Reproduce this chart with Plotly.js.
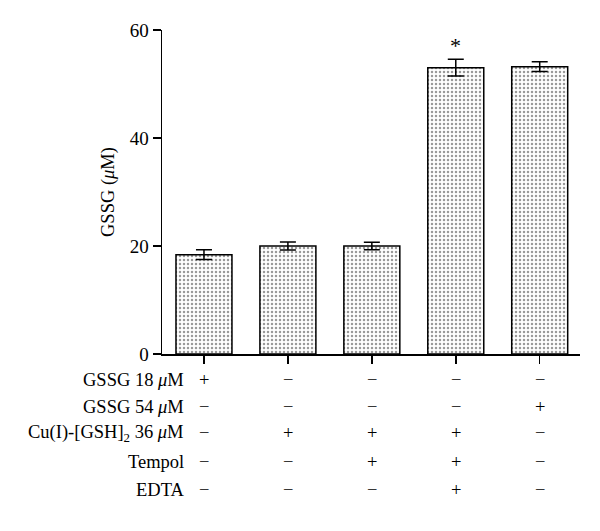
<!DOCTYPE html>
<html>
<head>
<meta charset="utf-8">
<script src="https://cdn.plot.ly/plotly-3.0.1.min.js"></script>
<style>
  body { margin: 0; background: #fff; }
  #plot { width: 600px; height: 531px; }
</style>
</head>
<body>
<div id="plot"></div>
<script>
// bar groups (one per column of the condition table)
const groups = [0, 1, 2, 3, 4];
const gssgMeans = [18.4, 20.0, 20.0, 53.0, 53.2];
const gssgErrPlus = [0.9, 0.75, 0.7, 1.6, 0.9];
const gssgErrMinus = [0.9, 0.75, 0.7, 1.5, 0.9];
const significant = [false, false, false, true, false];

// condition table under the x axis
const rowLabels = [
    'GSSG 18 <i>μ</i>M',
    'GSSG 54 <i>μ</i>M',
    'Cu(I)-[GSH]<sub>2</sub> 36 <i>μ</i>M',
    'Tempol',
    'EDTA'
];
const gssg18 = ['+', '−', '−', '−', '−'];
const gssg54 = ['−', '−', '−', '−', '+'];
const cuGsh = ['−', '+', '+', '+', '−'];
const tempol = ['−', '−', '+', '+', '−'];
const edta = ['−', '−', '−', '+', '−'];

const yTicks = [0, 20, 40, 60];

const FONT = 'Liberation Serif, DejaVu Serif, serif';
const FS = 18.5;

var trace = {
    type: 'bar',
    x: groups,
    y: gssgMeans,
    width: 0.667,
    marker: {
        color: '#ffffff',
        line: {color: '#000000', width: 1.5},
        pattern: {shape: '.', fgcolor: '#9a9a9a', bgcolor: '#ffffff', size: 4, solidity: 0.3}
    },
    error_y: {
        type: 'data',
        symmetric: false,
        array: gssgErrPlus,
        arrayminus: gssgErrMinus,
        color: '#000000',
        thickness: 1.5,
        width: 8
    },
    hoverinfo: 'skip'
};

var annotations = [];
// row labels and +/- signs
var rows = [gssg18, gssg54, cuGsh, tempol, edta];
var rowY = [-0.080, -0.164, -0.244, -0.333, -0.420]; // paper coords
for (let r = 0; r < rows.length; r++) {
    annotations.push({
        xref: 'paper', yref: 'paper',
        x: 0.058, y: rowY[r],
        xanchor: 'right', yanchor: 'middle',
        text: rowLabels[r],
        showarrow: false,
        font: {family: FONT, size: FS, color: '#000'}
    });
    for (let i = 0; i < groups.length; i++) {
        annotations.push({
            xref: 'x', yref: 'paper',
            x: groups[i], y: rowY[r],
            xanchor: 'center', yanchor: 'middle',
            text: rows[r][i],
            showarrow: false,
            font: {family: FONT, size: FS, color: '#000'}
        });
    }
}
// significance asterisk
for (let i = 0; i < groups.length; i++) {
    if (significant[i]) {
        annotations.push({
            xref: 'x', yref: 'y',
            x: groups[i], y: gssgMeans[i] + gssgErrPlus[i],
            yshift: 14,
            xanchor: 'center', yanchor: 'middle',
            text: '*',
            showarrow: false,
            font: {family: FONT, size: 22, color: '#000'}
        });
    }
}

var layout = {
    width: 600,
    height: 531,
    margin: {l: 162, r: 20, t: 30, b: 177},
    paper_bgcolor: '#ffffff',
    plot_bgcolor: '#ffffff',
    showlegend: false,
    font: {family: FONT, size: FS, color: '#000'},
    xaxis: {
        range: [-0.5, 4.48],
        tickvals: groups,
        showticklabels: false,
        ticks: 'outside',
        ticklen: 8,
        tickwidth: 1.5,
        tickcolor: '#000',
        showline: true,
        linecolor: '#000',
        linewidth: 1.5,
        showgrid: false,
        zeroline: false,
        fixedrange: true
    },
    yaxis: {
        range: [0, 60],
        tickvals: yTicks,
        ticks: 'outside',
        ticklen: 8,
        tickwidth: 1.5,
        tickcolor: '#000',
        tickfont: {family: FONT, size: 19, color: '#000'},
        showline: true,
        linecolor: '#000',
        linewidth: 1.5,
        showgrid: false,
        zeroline: false,
        title: {text: 'GSSG (<i>μ</i>M)', font: {family: FONT, size: FS, color: '#000'}, standoff: 10},
        fixedrange: true
    },
    annotations: annotations
};

Plotly.newPlot('plot', [trace], layout, {displayModeBar: false, staticPlot: true});
</script>
</body>
</html>
